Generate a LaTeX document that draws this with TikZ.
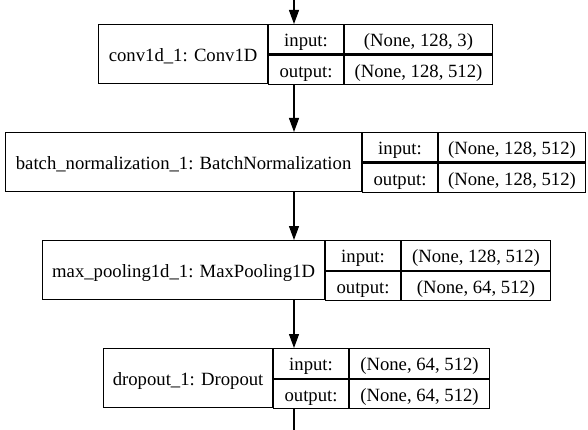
\documentclass[tikz,border=0pt]{standalone}
\usepackage{fontspec}
\setmainfont{Liberation Serif}
\usetikzlibrary{arrows.meta,positioning}
\tikzset{
  cell/.style = {
    draw,
    line width=1.2pt,
    inner sep=0pt,
    anchor=north west,
    text height=15pt,
    text depth=0.5pt,
    font=\fontsize{18.7}{22}\selectfont
  },
  namecell/.style = {
    cell,
    minimum height=59pt
  },
  keycell/.style = {
    cell,
    minimum width=74.5pt,
    minimum height=29.5pt
  },
  valcell/.style = {
    cell,
    minimum height=29.5pt
  },
  edge/.style = {
    line width=1.2pt
  },
  arc/.style = {
    -{Triangle[length=14pt,width=10pt]},
    line width=1.2pt
  }
}

\begin{document}
\begin{tikzpicture}[x=1pt,y=-1pt]
    \useasboundingbox (0,0) rectangle (588,430);

    % conv1d_1
    \node[namecell, minimum width=169pt] (conv) at (98,24) {conv1d\_1: Conv1D};
    \node[keycell] (convin)  at (conv.north east)  {input:};
    \node[keycell] (convout) at (convin.south west) {output:};
    \node[valcell, minimum width=148pt] (convinval)  at (convin.north east)  {(None, 128, 3)};
    \node[valcell, minimum width=148pt] (convoutval) at (convout.north east) {(None, 128, 512)};

    % batch_normalization_1
    \node[namecell, minimum width=356pt] (batch) at (5,132) {batch\_normalization\_1: BatchNormalization};
    \node[keycell] (batchin)  at (batch.north east)  {input:};
    \node[keycell] (batchout) at (batchin.south west) {output:};
    \node[valcell, minimum width=147pt] (batchinval)  at (batchin.north east)  {(None, 128, 512)};
    \node[valcell, minimum width=147pt] (batchoutval) at (batchout.north east) {(None, 128, 512)};

    % max_pooling1d_1
    \node[namecell, minimum width=282pt] (pool) at (42,240) {max\_pooling1d\_1: MaxPooling1D};
    \node[keycell] (poolin)  at (pool.north east)  {input:};
    \node[keycell] (poolout) at (poolin.south west) {output:};
    \node[valcell, minimum width=149pt] (poolinval)  at (poolin.north east)  {(None, 128, 512)};
    \node[valcell, minimum width=149pt] (pooloutval) at (poolout.north east) {(None, 64, 512)};

    % dropout_1
    \node[namecell, minimum width=169pt] (drop) at (103,348) {dropout\_1: Dropout};
    \node[keycell] (dropin)  at (drop.north east)  {input:};
    \node[keycell] (dropout) at (dropin.south west) {output:};
    \node[valcell, minimum width=140pt] (dropinval)  at (dropin.north east)  {(None, 64, 512)};
    \node[valcell, minimum width=140pt] (dropoutval) at (dropout.north east) {(None, 64, 512)};

    % connectors
    \coordinate (top)    at (294,0);
    \coordinate (bottom) at (294,430);
    \draw[arc] (top) -- (top |- conv.north);
    \draw[arc] (convout.south -| top) -- (batch.north -| top);
    \draw[arc] (batch.south -| top) -- (pool.north -| top);
    \draw[arc] (pool.south -| top) -- (dropin.north -| top);
    \draw[edge] (dropout.south -| bottom) -- (bottom);
\end{tikzpicture}
\end{document}
